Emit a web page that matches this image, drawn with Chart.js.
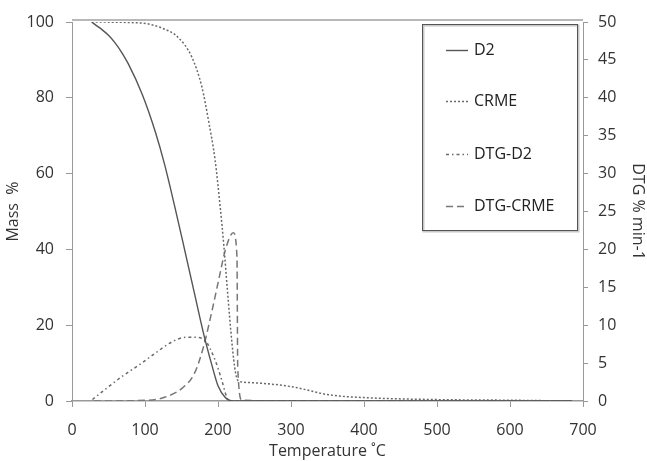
<!DOCTYPE html>
<html>
<head>
<meta charset="utf-8">
<script src="https://cdn.jsdelivr.net/npm/chart.js@4.4.1/dist/chart.umd.min.js"></script>
<style>
  body { margin: 0; background: #fff; }
  #wrap { width: 647px; height: 461px; }
</style>
</head>
<body>
<div id="wrap"><canvas id="tgaChart" width="647" height="461"></canvas></div>
<script>
// TGA data (temperature in °C)
const d2Temp = [27, 33, 41, 50, 59, 68, 77, 96, 114, 127, 141, 155, 168, 181, 192, 200, 210, 219, 300, 400, 500, 600, 685];
const d2Mass = [100, 99.1, 98, 96.5, 94.5, 92, 89, 81, 71.1, 62.3, 51.1, 39.3, 28.2, 17.2, 9.2, 4, 0.9, 0, 0, 0, 0, 0, 0];

const crmeTemp = [27, 96, 123, 145, 164, 178, 187, 196, 203, 208, 213, 219, 224, 228, 240, 300, 353, 400, 490, 600, 685];
const crmeMass = [100, 99.7, 98.4, 96, 90.8, 82.8, 74, 63.6, 51.2, 41, 29, 15.5, 7.5, 5.3, 4.9, 3.8, 1.6, 0.9, 0.4, 0.2, 0];

// DTG curves (right axis, % min-1)
const dtgD2Temp = [28, 45, 68, 91, 114, 137, 155, 168, 182, 196, 205, 212, 216, 300, 400, 500, 600, 685];
const dtgD2 = [0.2, 1.5, 3.2, 4.7, 6.3, 7.8, 8.4, 8.4, 8, 5.4, 2.8, 0.5, 0, 0, 0, 0, 0, 0];

const dtgCrmeTemp = [30, 104, 127, 151, 168, 180, 192, 203, 210, 221, 226, 227, 233, 300, 400, 500, 600, 685];
const dtgCrme = [0, 0.1, 0.5, 1.7, 3.7, 7.1, 12, 16.9, 19.9, 22.2, 19, 4.5, 0.1, 0, 0, 0, 0, 0];

const xTicks = [0, 100, 200, 300, 400, 500, 600, 700];

const pts = (xs, ys) => xs.map((x, i) => ({ x: x, y: ys[i] }));

const FONT = '"Open Sans", "Liberation Sans", sans-serif';

// little plugin: top frame line + boxed legend inside the plot
const frameAndLegend = {
  id: 'frameAndLegend',
  afterDatasetsDraw(chart) {
    const c = chart.ctx;
    const a = chart.chartArea;
    c.save();
    c.strokeStyle = '#a0a0a0';
    c.lineWidth = 1.5;
    c.beginPath();
    c.moveTo(a.left, a.top - 2);
    c.lineTo(a.right, a.top - 2);
    c.stroke();

    // legend box
    const bx = a.right - 161, by = a.top + 2, bw = 155, bh = 206;
    c.fillStyle = '#fff';
    c.fillRect(bx, by, bw, bh);
    c.strokeStyle = '#c8c8c8';
    c.lineWidth = 2;
    c.strokeRect(bx + 1.5, by + 1.5, bw, bh);
    c.strokeStyle = '#555';
    c.lineWidth = 1;
    c.strokeRect(bx + 0.5, by + 0.5, bw, bh);

    const rows = [26, 77, 130, 182];
    chart.data.datasets.forEach((ds, i) => {
      const y = by + rows[i] + 0.5;
      c.strokeStyle = ds.borderColor;
      c.lineWidth = ds.borderWidth;
      c.setLineDash(ds.borderDash || []);
      c.beginPath();
      c.moveTo(bx + 24, y);
      c.lineTo(bx + 46, y);
      c.stroke();
      c.setLineDash([]);
      c.fillStyle = '#222';
      c.font = '16px ' + FONT;
      c.textBaseline = 'middle';
      c.fillText(ds.label, bx + 52, y);
    });
    c.restore();
  }
};

new Chart(document.getElementById('tgaChart').getContext('2d'), {
  type: 'line',
  data: {
    datasets: [
      {
        label: 'D2',
        data: pts(d2Temp, d2Mass),
        yAxisID: 'y',
        borderColor: '#555',
        borderWidth: 1.4,
        borderDash: []
      },
      {
        label: 'CRME',
        data: pts(crmeTemp, crmeMass),
        yAxisID: 'y',
        borderColor: '#6a6a6a',
        borderWidth: 1.5,
        borderDash: [2, 2]
      },
      {
        label: 'DTG-D2',
        data: pts(dtgD2Temp, dtgD2),
        yAxisID: 'y1',
        borderColor: '#6a6a6a',
        borderWidth: 1.5,
        borderDash: [3, 3, 1.5, 3]
      },
      {
        label: 'DTG-CRME',
        data: pts(dtgCrmeTemp, dtgCrme),
        yAxisID: 'y1',
        borderColor: '#777',
        borderWidth: 1.5,
        borderDash: [7, 4]
      }
    ]
  },
  options: {
    responsive: false,
    animation: false,
    layout: { padding: { top: 22, right: 0, left: 0, bottom: 0 } },
    elements: {
      point: { radius: 0 },
      line: { cubicInterpolationMode: 'monotone', fill: false }
    },
    scales: {
      x: {
        type: 'linear',
        min: 0,
        max: 700,
        afterBuildTicks: (s) => { s.ticks = xTicks.map(v => ({ value: v })); },
        afterFit: (s) => { s.height = 60; },
        grid: { drawOnChartArea: false, tickLength: 6, color: '#999' },
        border: { color: '#999', width: 1.5 },
        ticks: { color: '#333', font: { family: FONT, size: 16 }, padding: 14, maxRotation: 0 },
        title: { display: true, text: 'Temperature ˚C', color: '#333', font: { family: FONT, size: 16 }, padding: { top: 0, bottom: 0 } }
      },
      y: {
        position: 'left',
        min: 0,
        max: 100,
        afterFit: (s) => { s.width = 72; },
        grid: { drawOnChartArea: false, tickLength: 6, color: '#999' },
        border: { color: '#999' },
        ticks: { stepSize: 20, color: '#333', font: { family: FONT, size: 16 }, padding: 12 },
        title: { display: true, text: 'Mass  %', color: '#333', font: { family: FONT, size: 16 }, padding: { top: 4, bottom: 0 } }
      },
      y1: {
        position: 'right',
        min: 0,
        max: 50,
        afterFit: (s) => { s.width = 64; },
        grid: { drawOnChartArea: false, tickLength: 5, color: '#999' },
        border: { color: '#999' },
        ticks: { stepSize: 5, color: '#333', font: { family: FONT, size: 16 }, padding: 10 },
        title: { display: true, text: 'DTG % min-1', color: '#333', font: { family: FONT, size: 16 }, padding: { top: 0, bottom: 0 } }
      }
    },
    plugins: {
      legend: { display: false },
      tooltip: { enabled: false }
    }
  },
  plugins: [frameAndLegend]
});
</script>
</body>
</html>
